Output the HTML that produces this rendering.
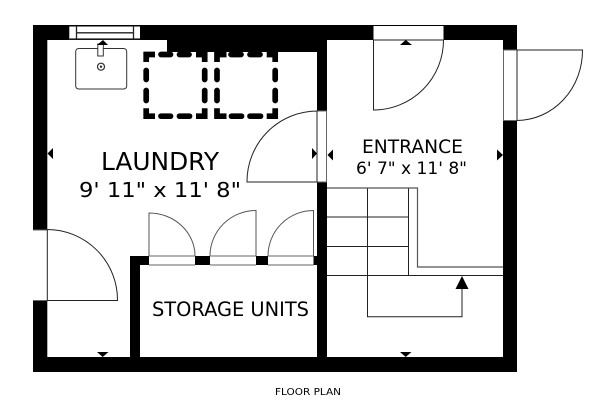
<!DOCTYPE html>
<html>
<head>
<meta charset="utf-8">
<style>
html,body{margin:0;padding:0;background:#fff;}
svg{display:block;}
text{font-family:"DejaVu Sans","Liberation Sans",sans-serif;fill:#000;}
</style>
</head>
<body>
<svg width="609" height="410" viewBox="0 0 609 410" xmlns="http://www.w3.org/2000/svg">
<rect width="609" height="410" fill="#fff"/>
<!-- walls -->
<path fill="#000" fill-rule="evenodd" d="M33 25H517V372H33ZM47.3 40V357H130V256H317V265H140V357H317V52H167V40ZM327 40V357H503V40Z"/>
<!-- openings -->
<g fill="#fff">
<rect x="69.300" y="26.500" width="70.700" height="13"/>
<rect x="373.500" y="26" width="70" height="14"/>
<rect x="503" y="50" width="14" height="70.500"/>
<rect x="33" y="230" width="14.300" height="70.500"/>
<rect x="317.500" y="111" width="9.500" height="71"/>
<rect x="149" y="256" width="46" height="9"/>
<rect x="210" y="256" width="46" height="9"/>
<rect x="268" y="256" width="45.500" height="9"/>
</g>
<g fill="none" stroke="#666" stroke-width="1">
<path d="M503 50H517M503 120.500H517M503.500 50V120.500"/>
<path d="M33 230H47M33 300.500H47"/>
<path d="M317 111H327M317 182H327M326.500 111V182"/>
<path d="M149 256H195M149 265H195M210 256H256M210 265H256M268 256H313.500M268 265H313.500"/>
</g>
<!-- window -->
<g fill="none" stroke="#222" stroke-width="1.300">
<path d="M76.500 26V39.500M133.500 26V39.500M76.500 32.800H133.500M69.500 39H140"/>
</g>
<!-- doors -->
<g fill="none" stroke="#222" stroke-width="1">
<path d="M47.300 229.500A70.500 70.500 0 0 1 117.500 300.500H47.300V229.500"/>
<path d="M317 111A70.500 70.500 0 0 0 247 182H317V111"/>
<path d="M373.500 40V110A70 70 0 0 0 443.500 40H373.500"/>
<path d="M517 50H582.500A66 70 0 0 1 517 120.500V50"/>
</g>
<g fill="none" stroke="#555" stroke-width="1">
<path d="M149 256V213A46 43 0 0 1 195 256"/>
<path d="M256 256V210.500A46 45.500 0 0 0 210 256"/>
<path d="M313.500 256V210.500A45.500 45.500 0 0 0 268 256"/>
</g>
<!-- sink -->
<rect x="75.700" y="48.500" width="51" height="40.500" rx="3" fill="#fff" stroke="#333" stroke-width="1"/>
<rect x="97.800" y="44" width="5.500" height="12" fill="#fff" stroke="#333" stroke-width="1"/>
<path d="M97 45L103 40L108 45Z" fill="#000"/>
<circle cx="101" cy="66.700" r="3.500" fill="none" stroke="#333" stroke-width="1.200"/>
<circle cx="101" cy="66.700" r="1.200" fill="#333"/>
<!-- dashed appliances -->
<g fill="none" stroke="#000" stroke-width="5.700">
<path d="M146.200 62V54.500H155"/>
<path d="M196 54.500H204.700V62"/>
<path d="M146.200 108.300V116.200H155"/>
<path d="M196 116.200H204.700V108.300"/>
<path d="M217 62V54.500H226.500"/>
<path d="M266.700 54.500H275.200V62"/>
<path d="M217 108.300V116.200H226.500"/>
<path d="M266.700 116.200H275.200V108.300"/>
</g>
<g fill="none" stroke="#000" stroke-width="5.700" stroke-linecap="round">
<path d="M161 54.500H170.500M179.500 54.500H189M161 116.200H170.500M179.500 116.200H189.500"/>
<path d="M231 54.500H241M250 54.500H260M231.500 116.200H241.500M250 116.200H260.500"/>
<path d="M146.200 70.500V79.500M146.200 90.500V100.500M204.700 70.500V79.500M204.700 90.500V100.500"/>
<path d="M217 70.500V79.500M217 90.500V100.500M275.200 70.500V79.500M275.200 90.500V100.500"/>
</g>
<!-- stairs -->
<g fill="none" stroke="#222" stroke-width="1">
<path d="M367.500 188V316.700H462V288"/>
<path d="M408.500 188V275.500"/>
<path d="M327 217H408.500M327 246.500H408.500"/>
<path d="M327 275.500H503"/>
</g>
<g fill="none" stroke="#555" stroke-width="1.200">
<path d="M327 188H417.500V267H503"/>
</g>
<path d="M462 276L468.500 289H455.500Z" fill="#000"/>
<!-- wall markers -->
<g fill="#000">
<path d="M47.500 153.500L53 148V159Z"/>
<path d="M317 153.500L312 148V159Z"/>
<path d="M327.500 155L333 149.500V160.500Z"/>
<path d="M503 155L497 149.500V160.500Z"/>
<path d="M405.700 40L412 45H400Z"/>
<path d="M102.700 357L97 352H108.500Z"/>
<path d="M405.700 357L400 352H411.500Z"/>
</g>
<!-- labels -->
<text x="101" y="170" font-size="25" textLength="118" lengthAdjust="spacingAndGlyphs">LAUNDRY</text>
<text x="79" y="197" font-size="20" textLength="162" lengthAdjust="spacingAndGlyphs">9' 11" x 11' 8"</text>
<text x="362" y="153" font-size="19" textLength="101" lengthAdjust="spacingAndGlyphs">ENTRANCE</text>
<text x="356" y="174" font-size="16.500" textLength="111" lengthAdjust="spacingAndGlyphs">6' 7" x 11' 8"</text>
<text x="152" y="316" font-size="19.500" textLength="157" lengthAdjust="spacingAndGlyphs">STORAGE UNITS</text>
<text x="275" y="395" font-size="9.500" textLength="66" lengthAdjust="spacingAndGlyphs">FLOOR PLAN</text>
</svg>
</body>
</html>
